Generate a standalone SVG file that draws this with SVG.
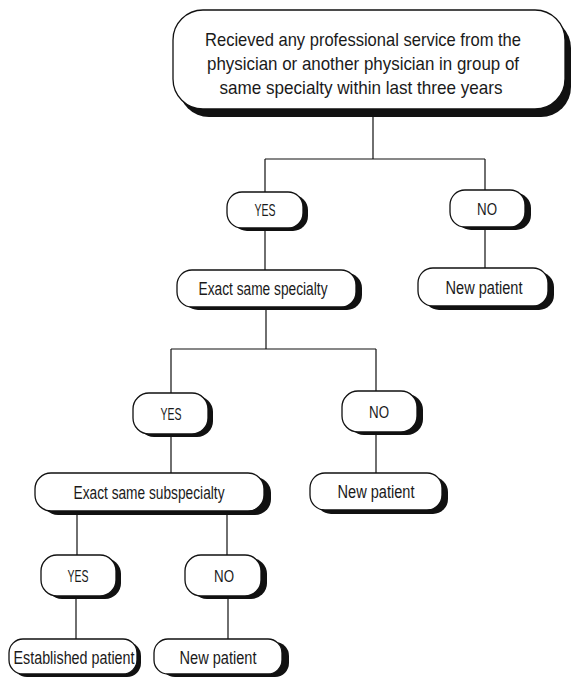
<svg xmlns="http://www.w3.org/2000/svg" width="572" height="678" viewBox="0 0 572 678">
<style>
.sh{fill:#111;}
.bx{fill:#fff;stroke:#111;stroke-width:1.3;}
.t{font-family:"Liberation Sans",Arial,sans-serif;fill:#1a1a1a;text-anchor:middle;}
.m{font-size:18.5px;}
.s{font-size:17.5px;}
.y{font-size:16.5px;}
.c{fill:none;stroke:#111;stroke-width:1.2;}
</style>
<rect width="572" height="678" fill="#fff"/>
<g id="connectors">
<path class="c" d="M373 117V159M265 159H485M265 159V192M485 159V190"/>
<path class="c" d="M265 228V270M485 227V268"/>
<path class="c" d="M266 310V349M171 349H376M171 349V393M376 349V391"/>
<path class="c" d="M171 437V473M376 434V473"/>
<path class="c" d="M77 514V555M227 514V555"/>
<path class="c" d="M76 597V639M228 597V639"/>
</g>
<g id="n-main">
<rect class="sh" x="179" y="18" width="392" height="99" rx="30"/>
<rect class="bx" x="173" y="10" width="392" height="99" rx="30"/>
<text class="t m" x="363" y="46" textLength="316" lengthAdjust="spacingAndGlyphs">Recieved any professional service from the</text>
<text class="t m" x="363" y="70" textLength="312" lengthAdjust="spacingAndGlyphs">physician or another physician in group of</text>
<text class="t m" x="361" y="94" textLength="283" lengthAdjust="spacingAndGlyphs">same specialty within last three years</text>
</g>
<g id="n-yes1">
<rect class="sh" x="232" y="195" width="76" height="36" rx="15"/>
<rect class="bx" x="227" y="192" width="76" height="36" rx="15"/>
<text class="t y" x="265" y="216" textLength="21" lengthAdjust="spacingAndGlyphs">YES</text>
</g>
<g id="n-no1">
<rect class="sh" x="456" y="193" width="75" height="37" rx="15"/>
<rect class="bx" x="450" y="190" width="75" height="37" rx="15"/>
<text class="t y" x="487" y="215" textLength="20" lengthAdjust="spacingAndGlyphs">NO</text>
</g>
<g id="n-spec">
<rect class="sh" x="183" y="273" width="179" height="37" rx="15"/>
<rect class="bx" x="177" y="270" width="179" height="37" rx="15"/>
<text class="t s" x="263" y="295" textLength="129" lengthAdjust="spacingAndGlyphs">Exact same specialty</text>
</g>
<g id="n-new1">
<rect class="sh" x="424" y="272" width="130" height="38" rx="15"/>
<rect class="bx" x="418" y="268" width="130" height="38" rx="15"/>
<text class="t s" x="484" y="294" textLength="77" lengthAdjust="spacingAndGlyphs">New patient</text>
</g>
<g id="n-yes2">
<rect class="sh" x="138" y="396" width="75" height="41" rx="16"/>
<rect class="bx" x="133" y="393" width="75" height="41" rx="16"/>
<text class="t y" x="171" y="420" textLength="21" lengthAdjust="spacingAndGlyphs">YES</text>
</g>
<g id="n-no2">
<rect class="sh" x="348" y="394" width="75" height="41" rx="16"/>
<rect class="bx" x="342" y="391" width="75" height="41" rx="16"/>
<text class="t y" x="379" y="418" textLength="20" lengthAdjust="spacingAndGlyphs">NO</text>
</g>
<g id="n-subspec">
<rect class="sh" x="42" y="477" width="229" height="38" rx="16"/>
<rect class="bx" x="35" y="473" width="229" height="38" rx="16"/>
<text class="t s" x="149" y="499" textLength="151" lengthAdjust="spacingAndGlyphs">Exact same subspecialty</text>
</g>
<g id="n-new2">
<rect class="sh" x="316" y="477" width="132" height="37" rx="15"/>
<rect class="bx" x="310" y="473" width="132" height="37" rx="15"/>
<text class="t s" x="376" y="498" textLength="77" lengthAdjust="spacingAndGlyphs">New patient</text>
</g>
<g id="n-yes3">
<rect class="sh" x="46" y="558" width="75" height="41" rx="16"/>
<rect class="bx" x="41" y="555" width="75" height="41" rx="16"/>
<text class="t y" x="78" y="582" textLength="21" lengthAdjust="spacingAndGlyphs">YES</text>
</g>
<g id="n-no3">
<rect class="sh" x="191" y="558" width="76" height="41" rx="16"/>
<rect class="bx" x="185" y="555" width="76" height="41" rx="16"/>
<text class="t y" x="224" y="582" textLength="20" lengthAdjust="spacingAndGlyphs">NO</text>
</g>
<g id="n-est">
<rect class="sh" x="13" y="642" width="128" height="35" rx="14"/>
<rect class="bx" x="9" y="639" width="128" height="35" rx="14"/>
<text class="t s" x="74" y="664" textLength="121" lengthAdjust="spacingAndGlyphs">Established patient</text>
</g>
<g id="n-new3">
<rect class="sh" x="161" y="642" width="128" height="35" rx="14"/>
<rect class="bx" x="154" y="639" width="128" height="35" rx="14"/>
<text class="t s" x="218" y="664" textLength="77" lengthAdjust="spacingAndGlyphs">New patient</text>
</g>
</svg>
